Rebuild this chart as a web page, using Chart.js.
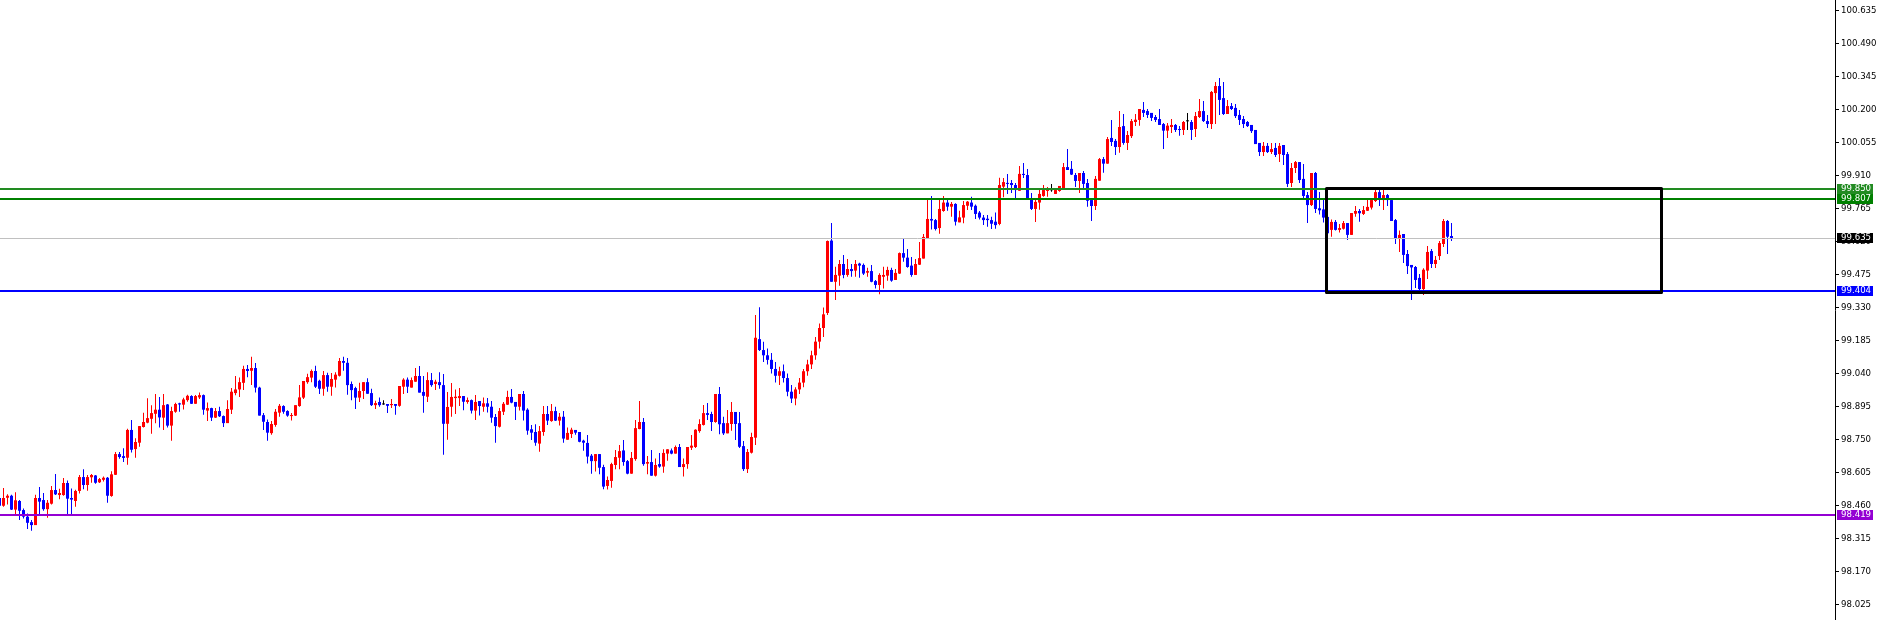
<!DOCTYPE html>
<html>
<head>
<meta charset="utf-8">
<script src="https://cdn.jsdelivr.net/npm/chart.js@4.4.0/dist/chart.umd.min.js"></script>
<style>
  html, body { margin: 0; padding: 0; background: #fff; }
  #wrap { width: 1877px; height: 620px; }
</style>
</head>
<body>
<div id="wrap"><canvas id="chart" width="1877" height="620"></canvas></div>
<script>
// candle data (one value per bar)
const opens = [
  98.493, 98.459, 98.494, 98.503, 98.442, 98.480, 98.440, 98.411, 98.387, 98.374,
  98.493, 98.484, 98.444, 98.468, 98.528, 98.506, 98.506, 98.559, 98.493, 98.480,
  98.524, 98.585, 98.550, 98.584, 98.592, 98.562, 98.573, 98.582, 98.502, 98.595,
  98.686, 98.677, 98.670, 98.792, 98.708, 98.736, 98.805, 98.824, 98.841, 98.863,
  98.881, 98.846, 98.904, 98.811, 98.872, 98.909, 98.903, 98.923, 98.941, 98.907,
  98.935, 98.945, 98.877, 98.888, 98.846, 98.875, 98.853, 98.822, 98.881, 98.954,
  98.970, 98.999, 99.060, 99.052, 99.064, 98.978, 98.857, 98.827, 98.778, 98.814,
  98.868, 98.897, 98.875, 98.853, 98.855, 98.897, 98.934, 99.002, 99.022, 99.051,
  99.008, 98.973, 99.033, 98.982, 99.013, 99.030, 99.095, 99.087, 98.994, 98.976,
  98.934, 98.963, 99.002, 98.954, 98.901, 98.915, 98.904, 98.906, 98.901, 98.906,
  98.898, 98.982, 99.013, 98.978, 99.004, 99.029, 98.959, 98.938, 99.011, 98.994,
  99.002, 98.989, 98.819, 98.894, 98.932, 98.932, 98.941, 98.915, 98.923, 98.877,
  98.919, 98.894, 98.909, 98.894, 98.849, 98.806, 98.872, 98.903, 98.937, 98.915,
  98.894, 98.950, 98.881, 98.795, 98.783, 98.732, 98.783, 98.862, 98.831, 98.875,
  98.833, 98.850, 98.749, 98.774, 98.792, 98.783, 98.745, 98.735, 98.679, 98.655,
  98.686, 98.629, 98.546, 98.568, 98.638, 98.670, 98.702, 98.655, 98.600, 98.664,
  98.796, 98.827, 98.644, 98.651, 98.591, 98.642, 98.631, 98.688, 98.702, 98.688,
  98.717, 98.629, 98.642, 98.714, 98.717, 98.787, 98.814, 98.866, 98.862, 98.827,
  98.950, 98.822, 98.777, 98.818, 98.871, 98.822, 98.721, 98.620, 98.692, 98.758,
  99.191, 99.143, 99.120, 99.100, 99.060, 99.030, 99.050, 99.020, 98.960, 98.930,
  98.970, 99.000, 99.050, 99.080, 99.120, 99.180, 99.240, 99.306, 99.624, 99.443,
  99.470, 99.521, 99.473, 99.499, 99.492, 99.523, 99.517, 99.483, 99.490, 99.446,
  99.429, 99.465, 99.470, 99.495, 99.451, 99.479, 99.569, 99.549, 99.514, 99.473,
  99.518, 99.545, 99.635, 99.719, 99.714, 99.679, 99.754, 99.791, 99.773, 99.785,
  99.704, 99.725, 99.777, 99.791, 99.777, 99.747, 99.725, 99.720, 99.714, 99.707,
  99.697, 99.861, 99.877, 99.877, 99.868, 99.843, 99.917, 99.912, 99.811, 99.763,
  99.791, 99.820, 99.842, 99.845, 99.829, 99.842, 99.855, 99.947, 99.939, 99.912,
  99.886, 99.921, 99.877, 99.802, 99.776, 99.887, 99.982, 99.962, 100.075, 100.062,
  100.035, 100.127, 100.053, 100.083, 100.145, 100.154, 100.198, 100.193, 100.185, 100.167,
  100.158, 100.136, 100.107, 100.123, 100.132, 100.114, 100.110, 100.148, 100.145, 100.114,
  100.167, 100.193, 100.149, 100.136, 100.272, 100.303, 100.250, 100.180, 100.215, 100.207,
  100.176, 100.158, 100.145, 100.132, 100.110, 100.053, 100.013, 100.040, 100.013, 100.031,
  100.004, 100.044, 100.004, 99.877, 99.943, 99.969, 99.895, 99.824, 99.780, 99.921,
  99.766, 99.761, 99.728, 99.671, 99.706, 99.671, 99.676, 99.701, 99.649, 99.742,
  99.754, 99.741, 99.755, 99.769, 99.798, 99.837, 99.802, 99.824, 99.802, 99.714,
  99.631, 99.653, 99.565, 99.517, 99.508, 99.460, 99.411, 99.492, 99.578, 99.521,
  99.556, 99.609, 99.710, 99.644
];
const highs = [
  98.500, 98.537, 98.510, 98.507, 98.518, 98.484, 98.447, 98.425, 98.396, 98.507,
  98.541, 98.515, 98.484, 98.546, 98.598, 98.534, 98.581, 98.570, 98.535, 98.529,
  98.594, 98.619, 98.594, 98.598, 98.594, 98.581, 98.588, 98.585, 98.611, 98.695,
  98.695, 98.712, 98.797, 98.836, 98.755, 98.809, 98.868, 98.931, 98.901, 98.950,
  98.937, 98.950, 98.906, 98.894, 98.912, 98.912, 98.934, 98.947, 98.944, 98.945,
  98.956, 98.948, 98.913, 98.890, 98.888, 98.894, 98.855, 98.923, 98.976, 99.029,
  99.022, 99.074, 99.077, 99.114, 99.086, 98.982, 98.866, 98.838, 98.831, 98.884,
  98.906, 98.901, 98.878, 98.866, 98.901, 98.989, 99.007, 99.039, 99.058, 99.074,
  99.013, 99.051, 99.043, 99.042, 99.045, 99.108, 99.114, 99.108, 99.005, 98.982,
  98.999, 99.002, 99.019, 98.973, 98.920, 98.935, 98.923, 98.906, 98.928, 98.906,
  98.985, 99.019, 99.022, 99.022, 99.064, 99.073, 99.029, 99.046, 99.042, 99.013,
  99.046, 99.038, 98.959, 98.998, 98.970, 98.976, 98.941, 98.935, 98.926, 98.945,
  98.919, 98.935, 98.932, 98.919, 98.862, 98.888, 98.915, 98.964, 98.972, 98.915,
  98.950, 98.963, 98.887, 98.814, 98.817, 98.809, 98.897, 98.897, 98.906, 98.894,
  98.866, 98.875, 98.803, 98.802, 98.792, 98.783, 98.749, 98.770, 98.686, 98.686,
  98.686, 98.639, 98.587, 98.648, 98.704, 98.726, 98.748, 98.660, 98.695, 98.836,
  98.919, 98.844, 98.677, 98.704, 98.667, 98.691, 98.707, 98.707, 98.710, 98.724,
  98.730, 98.667, 98.717, 98.770, 98.795, 98.839, 98.902, 98.910, 98.872, 98.950,
  98.981, 98.850, 98.880, 98.915, 98.871, 98.871, 98.743, 98.708, 98.780, 99.297,
  99.331, 99.180, 99.150, 99.130, 99.090, 99.070, 99.080, 99.040, 98.990, 98.980,
  99.020, 99.060, 99.100, 99.140, 99.200, 99.260, 99.330, 99.624, 99.701, 99.509,
  99.539, 99.561, 99.543, 99.521, 99.539, 99.527, 99.523, 99.505, 99.517, 99.451,
  99.480, 99.509, 99.509, 99.505, 99.499, 99.572, 99.635, 99.587, 99.552, 99.543,
  99.618, 99.653, 99.802, 99.820, 99.719, 99.802, 99.820, 99.802, 99.793, 99.788,
  99.755, 99.798, 99.798, 99.817, 99.783, 99.754, 99.736, 99.736, 99.729, 99.747,
  99.900, 99.899, 99.917, 99.890, 99.877, 99.952, 99.965, 99.939, 99.833, 99.802,
  99.846, 99.868, 99.859, 99.873, 99.855, 99.864, 99.965, 100.026, 99.974, 99.921,
  99.921, 99.930, 99.895, 99.802, 99.908, 99.987, 99.991, 100.079, 100.154, 100.070,
  100.193, 100.180, 100.105, 100.158, 100.180, 100.202, 100.233, 100.202, 100.185, 100.176,
  100.202, 100.141, 100.141, 100.158, 100.136, 100.127, 100.149, 100.185, 100.154, 100.189,
  100.246, 100.237, 100.176, 100.281, 100.321, 100.338, 100.321, 100.242, 100.229, 100.224,
  100.198, 100.171, 100.149, 100.132, 100.110, 100.053, 100.057, 100.053, 100.053, 100.053,
  100.053, 100.044, 100.013, 99.965, 99.974, 99.969, 99.960, 99.837, 99.921, 99.925,
  99.837, 99.802, 99.744, 99.717, 99.714, 99.697, 99.710, 99.701, 99.745, 99.776,
  99.763, 99.776, 99.802, 99.805, 99.846, 99.846, 99.846, 99.829, 99.810, 99.719,
  99.668, 99.653, 99.583, 99.517, 99.512, 99.477, 99.502, 99.600, 99.587, 99.556,
  99.622, 99.719, 99.714, 99.701
];
const lows = [
  98.455, 98.455, 98.464, 98.440, 98.420, 98.396, 98.403, 98.357, 98.349, 98.374,
  98.418, 98.437, 98.406, 98.465, 98.506, 98.487, 98.503, 98.418, 98.418, 98.455,
  98.513, 98.532, 98.525, 98.560, 98.556, 98.559, 98.565, 98.472, 98.499, 98.594,
  98.666, 98.651, 98.639, 98.693, 98.670, 98.718, 98.803, 98.821, 98.775, 98.821,
  98.803, 98.792, 98.803, 98.745, 98.868, 98.872, 98.882, 98.916, 98.906, 98.907,
  98.928, 98.859, 98.831, 98.831, 98.844, 98.849, 98.805, 98.822, 98.862, 98.944,
  98.937, 98.967, 99.024, 98.989, 98.956, 98.855, 98.792, 98.745, 98.771, 98.806,
  98.850, 98.863, 98.850, 98.833, 98.853, 98.894, 98.928, 98.995, 99.002, 98.976,
  98.950, 98.942, 98.960, 98.942, 98.978, 99.027, 99.052, 98.947, 98.923, 98.884,
  98.915, 98.928, 98.951, 98.897, 98.884, 98.894, 98.903, 98.866, 98.888, 98.859,
  98.894, 98.950, 98.954, 98.978, 99.004, 98.956, 98.868, 98.915, 98.982, 98.967,
  98.973, 98.683, 98.749, 98.850, 98.862, 98.897, 98.879, 98.907, 98.864, 98.836,
  98.855, 98.872, 98.869, 98.824, 98.736, 98.803, 98.858, 98.902, 98.909, 98.836,
  98.877, 98.833, 98.771, 98.748, 98.723, 98.696, 98.767, 98.814, 98.828, 98.831,
  98.812, 98.736, 98.749, 98.757, 98.771, 98.738, 98.701, 98.645, 98.600, 98.609,
  98.597, 98.532, 98.530, 98.538, 98.619, 98.619, 98.635, 98.597, 98.600, 98.657,
  98.795, 98.635, 98.597, 98.591, 98.588, 98.626, 98.604, 98.657, 98.685, 98.688,
  98.629, 98.587, 98.622, 98.704, 98.713, 98.780, 98.811, 98.836, 98.787, 98.824,
  98.773, 98.770, 98.777, 98.789, 98.748, 98.713, 98.612, 98.603, 98.689, 98.726,
  99.139, 99.090, 99.080, 99.040, 99.000, 98.990, 99.000, 98.940, 98.910, 98.900,
  98.950, 98.980, 99.030, 99.060, 99.100, 99.150, 99.200, 99.297, 99.443, 99.363,
  99.426, 99.458, 99.465, 99.465, 99.465, 99.461, 99.473, 99.465, 99.441, 99.414,
  99.388, 99.414, 99.448, 99.443, 99.451, 99.477, 99.531, 99.505, 99.465, 99.473,
  99.517, 99.545, 99.632, 99.673, 99.668, 99.654, 99.751, 99.755, 99.729, 99.690,
  99.704, 99.700, 99.758, 99.758, 99.719, 99.717, 99.692, 99.685, 99.675, 99.676,
  99.691, 99.814, 99.829, 99.833, 99.811, 99.843, 99.899, 99.811, 99.758, 99.706,
  99.760, 99.817, 99.817, 99.839, 99.829, 99.838, 99.852, 99.934, 99.912, 99.859,
  99.833, 99.855, 99.773, 99.710, 99.758, 99.887, 99.922, 99.962, 100.040, 100.000,
  100.010, 100.045, 100.022, 100.075, 100.127, 100.129, 100.167, 100.163, 100.149, 100.145,
  100.132, 100.026, 100.075, 100.097, 100.101, 100.085, 100.088, 100.110, 100.066, 100.079,
  100.163, 100.145, 100.119, 100.114, 100.136, 100.176, 100.176, 100.180, 100.198, 100.163,
  100.132, 100.119, 100.123, 100.097, 100.048, 99.996, 99.996, 100.009, 100.004, 99.991,
  99.969, 99.956, 99.859, 99.859, 99.921, 99.877, 99.811, 99.701, 99.776, 99.745,
  99.739, 99.703, 99.653, 99.641, 99.668, 99.659, 99.673, 99.627, 99.649, 99.729,
  99.707, 99.736, 99.754, 99.761, 99.794, 99.776, 99.758, 99.776, 99.710, 99.609,
  99.574, 99.526, 99.477, 99.363, 99.416, 99.407, 99.385, 99.455, 99.504, 99.504,
  99.539, 99.596, 99.565, 99.622
];
const closes = [
  98.459, 98.493, 98.503, 98.442, 98.483, 98.437, 98.411, 98.384, 98.374, 98.493,
  98.477, 98.444, 98.472, 98.528, 98.509, 98.515, 98.559, 98.490, 98.486, 98.524,
  98.585, 98.550, 98.585, 98.594, 98.560, 98.576, 98.582, 98.503, 98.597, 98.686,
  98.673, 98.669, 98.792, 98.705, 98.739, 98.809, 98.827, 98.844, 98.866, 98.881,
  98.847, 98.901, 98.811, 98.875, 98.906, 98.904, 98.926, 98.942, 98.907, 98.941,
  98.945, 98.881, 98.888, 98.846, 98.875, 98.852, 98.822, 98.884, 98.960, 98.970,
  99.002, 99.060, 99.051, 99.064, 98.978, 98.855, 98.828, 98.780, 98.818, 98.872,
  98.898, 98.872, 98.855, 98.857, 98.901, 98.935, 99.007, 99.024, 99.051, 98.982,
  98.973, 99.033, 98.982, 99.016, 99.035, 99.095, 99.087, 98.989, 98.967, 98.934,
  98.963, 99.002, 98.951, 98.901, 98.910, 98.901, 98.904, 98.898, 98.906, 98.898,
  98.985, 99.013, 98.982, 99.011, 99.029, 98.956, 98.942, 99.011, 98.989, 99.004,
  98.989, 98.819, 98.893, 98.937, 98.938, 98.941, 98.916, 98.923, 98.877, 98.915,
  98.897, 98.909, 98.894, 98.846, 98.809, 98.875, 98.907, 98.937, 98.912, 98.894,
  98.950, 98.877, 98.789, 98.780, 98.736, 98.787, 98.862, 98.833, 98.875, 98.833,
  98.850, 98.754, 98.779, 98.793, 98.780, 98.740, 98.736, 98.675, 98.655, 98.686,
  98.626, 98.543, 98.572, 98.642, 98.673, 98.699, 98.651, 98.600, 98.669, 98.800,
  98.827, 98.642, 98.651, 98.591, 98.638, 98.631, 98.691, 98.707, 98.688, 98.717,
  98.629, 98.642, 98.717, 98.723, 98.793, 98.818, 98.866, 98.858, 98.827, 98.950,
  98.817, 98.777, 98.822, 98.871, 98.818, 98.718, 98.620, 98.695, 98.761, 99.197,
  99.143, 99.120, 99.100, 99.060, 99.030, 99.050, 99.020, 98.960, 98.930, 98.970,
  99.000, 99.050, 99.080, 99.120, 99.180, 99.240, 99.300, 99.622, 99.443, 99.473,
  99.521, 99.473, 99.499, 99.490, 99.521, 99.514, 99.479, 99.490, 99.443, 99.429,
  99.473, 99.473, 99.495, 99.448, 99.482, 99.569, 99.549, 99.508, 99.473, 99.521,
  99.547, 99.640, 99.719, 99.712, 99.675, 99.763, 99.791, 99.773, 99.785, 99.707,
  99.726, 99.780, 99.795, 99.773, 99.741, 99.725, 99.714, 99.714, 99.698, 99.692,
  99.868, 99.881, 99.873, 99.868, 99.846, 99.917, 99.912, 99.811, 99.763, 99.794,
  99.829, 99.846, 99.849, 99.845, 99.846, 99.864, 99.947, 99.934, 99.914, 99.886,
  99.921, 99.873, 99.799, 99.776, 99.895, 99.982, 99.962, 100.070, 100.057, 100.035,
  100.123, 100.053, 100.088, 100.149, 100.155, 100.202, 100.185, 100.176, 100.163, 100.154,
  100.132, 100.107, 100.129, 100.132, 100.110, 100.110, 100.145, 100.148, 100.110, 100.171,
  100.193, 100.149, 100.136, 100.277, 100.303, 100.242, 100.180, 100.215, 100.202, 100.171,
  100.154, 100.136, 100.127, 100.105, 100.048, 100.013, 100.040, 100.013, 100.026, 100.000,
  100.040, 100.000, 99.873, 99.943, 99.969, 99.890, 99.820, 99.780, 99.921, 99.763,
  99.757, 99.725, 99.656, 99.706, 99.671, 99.679, 99.701, 99.649, 99.745, 99.754,
  99.744, 99.758, 99.772, 99.802, 99.837, 99.807, 99.824, 99.802, 99.710, 99.632,
  99.649, 99.561, 99.512, 99.506, 99.451, 99.411, 99.496, 99.574, 99.521, 99.539,
  99.613, 99.710, 99.641, 99.631
];

// price axis
const tickValues = [98.025, 98.170, 98.315, 98.460, 98.605, 98.750, 98.895, 99.040, 99.185,
  99.330, 99.475, 99.620, 99.765, 99.910, 100.055, 100.200, 100.345, 100.490, 100.635];
const priceMin = 97.957;
const priceMax = 100.681;
const barSlots = [0.125, 458.875]; // visible bar range incl. empty space on the right

// horizontal levels drawn on the chart
const levelPrices = [99.850, 99.807, 99.635, 99.404, 98.419];
const levelColors = ['#228b22', '#008000', '#c0c0c0', '#0000ff', '#9400d3'];
const levelLabelBg = ['#228b22', '#008000', '#000000', '#0000ff', '#9400d3'];
const levelWidths = [2, 2, 1, 2, 2];

// rectangle: bar index from/to, price top/bottom
const boxBars = [331.5, 415.3];
const boxPrices = [99.857, 99.400];

const UP = '#ff0000', DOWN = '#0000ff', FLAT = '#000000';
const colors = opens.map((o, i) => closes[i] > o ? UP : (closes[i] < o ? DOWN : FLAT));

const axisFont = { family: 'DejaVu Sans', size: 8.6 };

const levelsPlugin = {
  id: 'levels',
  afterDatasetsDraw(chart) {
    const { ctx, chartArea, scales } = chart;
    const x = scales.x, y = scales.y;
    ctx.save();
    levelPrices.forEach((p, k) => {
      let py = Math.round(y.getPixelForValue(p));
      if (levelWidths[k] % 2) py += 0.5;
      ctx.strokeStyle = levelColors[k];
      ctx.lineWidth = levelWidths[k];
      ctx.beginPath();
      ctx.moveTo(chartArea.left, py);
      ctx.lineTo(chartArea.right, py);
      ctx.stroke();
    });
    // the box
    const x1 = x.getPixelForValue(boxBars[0]);
    const x2 = x.getPixelForValue(boxBars[1]);
    const y1 = y.getPixelForValue(boxPrices[0]);
    const y2 = y.getPixelForValue(boxPrices[1]);
    ctx.strokeStyle = '#000';
    ctx.lineWidth = 3;
    ctx.lineJoin = 'round';
    ctx.strokeRect(Math.round(x1) + 0.5, Math.round(y1) + 0.5, Math.round(x2 - x1), Math.round(y2 - y1));
    ctx.restore();
  },
  afterDraw(chart) {
    const { ctx, chartArea, scales } = chart;
    const y = scales.y;
    ctx.save();
    ctx.font = axisFont.size + 'px "' + axisFont.family + '"';
    ctx.textBaseline = 'middle';
    ctx.textAlign = 'left';
    levelPrices.forEach((p, k) => {
      const py = Math.round(y.getPixelForValue(p));
      ctx.fillStyle = levelLabelBg[k];
      ctx.fillRect(chartArea.right + 2, py - 5, 36, 10);
      ctx.fillStyle = '#ffffff';
      ctx.fillText(p.toFixed(3), chartArea.right + 6, py);
    });
    ctx.restore();
  }
};

new Chart(document.getElementById('chart'), {
  type: 'bar',
  data: {
    datasets: [
      {
        label: 'wicks',
        data: opens.map((o, i) => ({ x: i, y: [lows[i], highs[i]] })),
        backgroundColor: colors,
        barThickness: 1,
        minBarLength: 1,
        grouped: false,
        borderWidth: 0,
        inflateAmount: 0
      },
      {
        label: 'bodies',
        data: opens.map((o, i) => ({ x: i, y: [o, closes[i]] })),
        backgroundColor: colors,
        barThickness: 3,
        minBarLength: 1,
        grouped: false,
        borderWidth: 0,
        inflateAmount: 0
      }
    ]
  },
  options: {
    responsive: false,
    animation: false,
    devicePixelRatio: 1,
    layout: { padding: 0 },
    plugins: { legend: { display: false }, tooltip: { enabled: false } },
    scales: {
      x: {
        type: 'linear',
        offset: false,
        min: barSlots[0],
        max: barSlots[1],
        display: false
      },
      y: {
        position: 'right',
        min: priceMin,
        max: priceMax,
        afterBuildTicks: (scale) => { scale.ticks = tickValues.map(v => ({ value: v })); },
        afterFit: (scale) => { scale.width = 42; scale.paddingTop = 0; scale.paddingBottom = 0; },
        border: { display: true, color: '#000000', width: 1 },
        grid: { display: true, drawOnChartArea: false, drawTicks: true, tickLength: 4, color: '#000000' },
        ticks: {
          padding: 2,
          color: '#000000',
          font: axisFont,
          callback: (v) => Number(v).toFixed(3)
        }
      }
    }
  },
  plugins: [levelsPlugin]
});
</script>
</body>
</html>
